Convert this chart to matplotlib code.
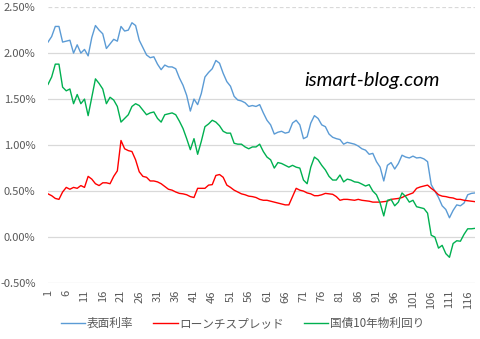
import numpy as np
import matplotlib.pyplot as plt
from matplotlib.ticker import FuncFormatter

plt.rcParams['font.family'] = ['Noto Sans CJK JP', 'DejaVu Sans']

# series values in percent, one point per month
surface_rate = [
    2.12, 2.18, 2.29, 2.29, 2.12, 2.13, 2.14, 2.00, 2.09, 2.00,
    2.04, 1.97, 2.17, 2.30, 2.25, 2.21, 2.05, 2.10, 2.15, 2.13,
    2.29, 2.24, 2.25, 2.33, 2.30, 2.14, 2.06, 1.98, 1.95, 1.96,
    1.88, 1.82, 1.87, 1.85, 1.85, 1.83, 1.73, 1.65, 1.54, 1.37,
    1.50, 1.44, 1.56, 1.74, 1.79, 1.83, 1.92, 1.89, 1.78, 1.69,
    1.64, 1.53, 1.49, 1.48, 1.46, 1.42, 1.43, 1.42, 1.44, 1.35,
    1.27, 1.22, 1.12, 1.14, 1.15, 1.13, 1.14, 1.24, 1.27, 1.22,
    1.07, 1.09, 1.24, 1.32, 1.29, 1.22, 1.20, 1.12, 1.085, 1.07,
    1.06, 1.01, 1.03, 1.02, 1.01, 0.99, 0.96, 0.945, 0.90, 0.91,
    0.82, 0.76, 0.61, 0.78, 0.81, 0.74, 0.80, 0.89, 0.87, 0.86,
    0.88, 0.86, 0.865, 0.85, 0.82, 0.57, 0.50, 0.43, 0.34, 0.30,
    0.21, 0.29, 0.35, 0.34, 0.37, 0.46, 0.475, 0.48,
]

loan_spread = [
    0.47, 0.45, 0.42, 0.41, 0.49, 0.54, 0.52, 0.54, 0.53, 0.56,
    0.54, 0.66, 0.63, 0.58, 0.56, 0.59, 0.59, 0.58, 0.66, 0.72,
    1.05, 0.96, 0.94, 0.93, 0.84, 0.71, 0.66, 0.65, 0.61, 0.61,
    0.60, 0.58, 0.55, 0.52, 0.51, 0.49, 0.475, 0.47, 0.46, 0.44,
    0.43, 0.53, 0.53, 0.53, 0.565, 0.57, 0.67, 0.68, 0.65, 0.565,
    0.54, 0.51, 0.49, 0.47, 0.46, 0.445, 0.44, 0.43, 0.41, 0.40,
    0.40, 0.39, 0.38, 0.37, 0.36, 0.35, 0.35, 0.44, 0.53, 0.51,
    0.50, 0.48, 0.47, 0.45, 0.45, 0.46, 0.475, 0.47, 0.465, 0.44,
    0.40, 0.41, 0.41, 0.405, 0.40, 0.41, 0.40, 0.395, 0.39, 0.38,
    0.38, 0.38, 0.385, 0.39, 0.41, 0.415, 0.42, 0.43, 0.45, 0.465,
    0.48, 0.53, 0.545, 0.555, 0.565, 0.53, 0.50, 0.46, 0.445, 0.44,
    0.43, 0.425, 0.41, 0.41, 0.40, 0.395, 0.39, 0.385,
]

jgb_10y = [
    1.66, 1.74, 1.88, 1.88, 1.63, 1.59, 1.61, 1.45, 1.55, 1.45,
    1.50, 1.32, 1.52, 1.72, 1.67, 1.61, 1.45, 1.52, 1.49, 1.42,
    1.25, 1.29, 1.33, 1.42, 1.45, 1.43, 1.38, 1.33, 1.35, 1.36,
    1.29, 1.25, 1.33, 1.34, 1.35, 1.33, 1.26, 1.18, 1.07, 0.95,
    1.07, 0.90, 1.04, 1.20, 1.23, 1.27, 1.25, 1.21, 1.15, 1.13,
    1.13, 1.02, 1.01, 1.01, 0.98, 0.96, 0.98, 0.98, 1.01, 0.93,
    0.87, 0.84, 0.75, 0.81, 0.80, 0.78, 0.76, 0.78, 0.76, 0.75,
    0.62, 0.58, 0.76, 0.87, 0.84, 0.78, 0.73, 0.66, 0.62, 0.62,
    0.675, 0.60, 0.63, 0.62, 0.60, 0.595, 0.576, 0.555, 0.57, 0.50,
    0.46, 0.37, 0.23, 0.40, 0.41, 0.34, 0.38, 0.48, 0.44, 0.38,
    0.40, 0.33, 0.32, 0.31, 0.26, 0.02, 0.00, -0.12, -0.09, -0.18,
    -0.22, -0.07, -0.04, -0.045, 0.03, 0.09, 0.09, 0.095,
]

labels = ['表面利率', 'ローンチスプレッド', '国債10年物利回り']
colors = ['#5B9BD5', '#FF0000', '#00B050']

months = np.arange(1, len(surface_rate) + 1)

fig = plt.figure(figsize=(4.8, 3.39), dpi=100)
ax = fig.add_axes([0.1, 0.165, 0.8896, 0.814])

for vals, lab, c in zip([surface_rate, loan_spread, jgb_10y], labels, colors):
    ax.plot(months, vals, color=c, lw=1.0, label=lab)

ax.set_xlim(1, len(months))
ax.set_ylim(-0.5, 2.5)
ax.set_yticks(np.arange(-0.5, 2.51, 0.5))
ax.yaxis.set_major_formatter(FuncFormatter(lambda v, p: f'{v:.2f}%'))
ax.set_xticks(months[::5])
ax.set_xticklabels([str(m) for m in months[::5]], rotation=90)

ax.grid(axis='y', color='#d9d9d9', lw=0.9)
ax.get_ygridlines()[-1].set_linestyle((0, (3, 2)))
ax.set_axisbelow(True)
for s in ['top', 'right', 'left', 'bottom']:
    ax.spines[s].set_visible(False)
ax.tick_params(axis='both', length=0, colors='#595959', labelsize=8)
ax.tick_params(axis='y', pad=9)
ax.tick_params(axis='x', pad=5)

ax.text(0.76, 0.735, 'ismart-blog.com', transform=ax.transAxes,
        fontsize=14.5, style='italic', family='Lato', ha='center', va='center')

fig.legend(loc='lower center', bbox_to_anchor=(0.505, -0.005), ncol=3,
           frameon=False, fontsize=8.4, handlelength=2.1, handletextpad=0.15,
           columnspacing=1.7, labelcolor='#595959')

fig.savefig('out.png', dpi=100)
